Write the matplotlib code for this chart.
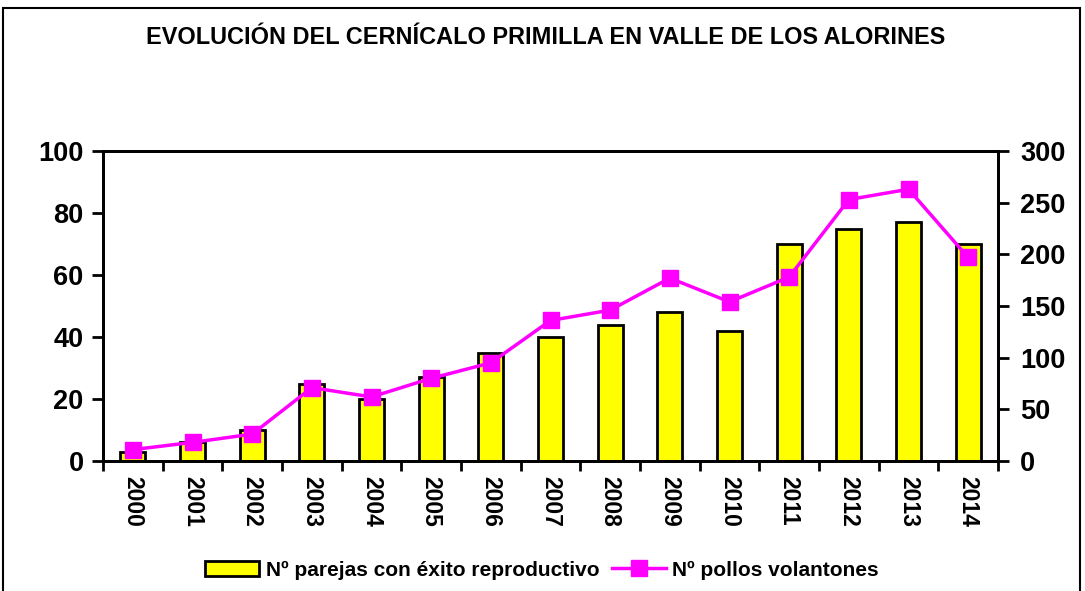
import matplotlib
matplotlib.use("Agg")
import matplotlib.pyplot as plt
from matplotlib.patches import Rectangle
import numpy as np

years = ["2000", "2001", "2002", "2003", "2004", "2005", "2006", "2007",
         "2008", "2009", "2010", "2011", "2012", "2013", "2014"]
parejas = [3, 6, 10, 25, 20, 27, 35, 40, 44, 48, 42, 70, 75, 77, 70]
pollos = [11, 18, 26, 71, 62, 80, 95, 136, 146, 177, 154, 178, 253, 263, 197]

plt.rcParams['font.family'] = ['Liberation Sans', 'DejaVu Sans']
plt.rcParams['font.weight'] = 'bold'

fig = plt.figure(figsize=(10.85, 5.91), dpi=100)
W, H = 1085, 591

# outer frame
fig.patches.append(Rectangle((3 / W, -0.05), (1080 - 3) / W, 1 - 8 / H + 0.05,
                             transform=fig.transFigure, fill=False,
                             edgecolor='black', linewidth=1.5))

ax = fig.add_axes([103 / W, 1 - 461 / H, (998 - 103) / W, (461 - 151) / H])
x = np.arange(len(years))
bars = ax.bar(x, parejas, width=0.42, color='#FFFF00', edgecolor='black',
              linewidth=2.0, label='Nº parejas con éxito reproductivo', zorder=2)
ax.set_xlim(-0.5, len(years) - 0.5)
ax.set_ylim(0, 100)
ax.set_yticks([0, 20, 40, 60, 80, 100])
ax.tick_params(axis='y', direction='out', length=8, width=2, labelsize=19.5, pad=6)
ax.set_xticks(np.arange(-0.5, len(years), 1.0))
ax.set_xticklabels([])
ax.set_xticks(x, minor=True)
ax.set_xticklabels(years, minor=True, rotation=270, fontsize=16.5, fontweight='bold')
ax.tick_params(axis='x', which='major', direction='out', length=7, width=2)
ax.tick_params(axis='x', which='minor', length=0, pad=11)
for lab in ax.get_yticklabels():
    lab.set_fontweight('bold')
for s in ax.spines.values():
    s.set_linewidth(2)

ax2 = ax.twinx()
line, = ax2.plot(x, pollos, color='#FF00FF', linewidth=2.5, marker='s',
                 markersize=12, markerfacecolor='#FF00FF', markeredgecolor='#FF00FF',
                 label='Nº pollos volantones', zorder=3)
ax2.set_ylim(0, 300)
ax2.set_yticks([0, 50, 100, 150, 200, 250, 300])
ax2.tick_params(axis='y', direction='out', length=8, width=2, labelsize=19.5, pad=8)
for lab in ax2.get_yticklabels():
    lab.set_fontweight('bold')
for s in ax2.spines.values():
    s.set_linewidth(2)

fig.text(546 / W, 1 - 37 / H, 'EVOLUCIÓN DEL CERNÍCALO PRIMILLA EN VALLE DE LOS ALORINES',
         ha='center', va='center', fontsize=16.9, fontweight='bold')

leg = fig.legend([bars, line], ['Nº parejas con éxito reproductivo', 'Nº pollos volantones'],
                 loc='center', bbox_to_anchor=(542 / W, 1 - 570 / H), ncol=2,
                 frameon=False, prop={'size': 15, 'weight': 'bold'},
                 handlelength=2.6, handletextpad=0.3, columnspacing=0.6,
                 borderpad=0.2)

fig.savefig('out.png', dpi=100)
